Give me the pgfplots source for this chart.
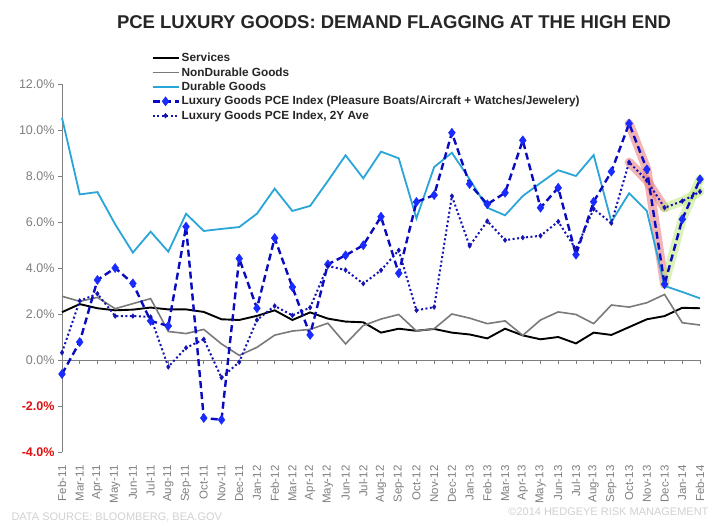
\documentclass[border=0pt]{standalone}
\usepackage{pgfplots}
\usepackage{pgfplotstable}
\pgfplotsset{compat=1.18}
\usepackage{fontspec}
\setmainfont{Liberation Sans}
\definecolor{durcol}{HTML}{2AA5D8}
\definecolor{luxcol}{HTML}{0A0AC0}
\definecolor{luxmark}{HTML}{1A2BFF}
\definecolor{avgcol}{HTML}{1414B4}
\definecolor{tickgray}{HTML}{7F7F7F}
\definecolor{negred}{HTML}{E01010}
\definecolor{ndgray}{HTML}{7A7A7A}
\definecolor{hlred}{HTML}{E87878}
\definecolor{hlgreen}{HTML}{B8E870}

\pgfplotstableread{
idx S N D L A
0 2.08 2.77 10.53 -0.61 0.32
1 2.43 2.55 7.20 0.78 2.57
2 2.25 2.72 7.30 3.48 2.88
3 2.16 2.23 5.90 4.00 1.91
4 2.19 2.45 4.67 3.33 1.91
5 2.28 2.67 5.58 1.70 1.87
6 2.20 1.24 4.71 1.48 -0.30
7 2.20 1.15 6.36 5.80 0.53
8 2.09 1.33 5.61 -2.52 0.90
9 1.77 0.70 5.70 -2.60 -0.77
10 1.74 0.20 5.78 4.41 -0.09
11 1.92 0.55 6.36 2.25 1.74
12 2.16 1.08 7.45 5.30 2.35
13 1.74 1.26 6.48 3.17 1.94
14 2.07 1.33 6.70 1.09 2.28
15 1.80 1.60 7.78 4.16 4.09
16 1.67 0.70 8.90 4.55 3.91
17 1.64 1.50 7.90 4.99 3.32
18 1.19 1.78 9.06 6.23 3.90
19 1.36 1.98 8.77 3.77 4.77
20 1.27 1.26 6.16 6.87 2.16
21 1.35 1.36 8.39 7.17 2.30
22 1.19 2.00 9.01 9.88 7.13
23 1.11 1.82 7.86 7.65 4.96
24 0.94 1.58 6.62 6.77 6.04
25 1.36 1.70 6.29 7.27 5.21
26 1.07 1.07 7.13 9.55 5.32
27 0.90 1.74 7.70 6.62 5.40
28 1.00 2.09 8.25 7.49 6.02
29 0.72 1.98 8.00 4.58 4.81
30 1.19 1.58 8.91 6.88 6.57
31 1.09 2.39 6.01 8.19 5.95
32 1.43 2.30 7.25 10.28 8.60
33 1.77 2.49 6.48 8.29 7.81
34 1.91 2.85 3.22 3.29 6.62
35 2.27 1.62 2.96 6.12 6.91
36 2.25 1.52 2.68 7.86 7.32
}\datatable

\begin{document}
\begin{tikzpicture}[x=1pt,y=1pt]
\useasboundingbox (0,0) rectangle (728,525);
\fill[white] (0,0) rectangle (728,525);
\node[font=\fontsize{18.5}{21}\selectfont\bfseries, text=black!85] at (394,503) {PCE LUXURY GOODS: DEMAND FLAGGING AT THE HIGH END};
\node[anchor=west, font=\fontsize{11}{12}\selectfont, text=black!18] at (8,8) {DATA SOURCE: BLOOMBERG, BEA.GOV};
\node[anchor=east, font=\fontsize{11}{12}\selectfont, text=black!18] at (712,13) {\textcopyright 2014 HEDGEYE RISK MANAGEMENT};
\begin{axis}[
  at={(62pt,73pt)}, anchor=south west,
  scale only axis, width=638pt, height=368pt,
  xmin=0, xmax=36, ymin=-4, ymax=12,
  axis y line=left, axis x line=bottom,
  axis line style={-},
  y axis line style={tickgray, line width=0.8pt},
  x axis line style={draw=none},
  xtick={0,...,36},
  xticklabels={Feb-11,Mar-11,Apr-11,May-11,Jun-11,Jul-11,Aug-11,Sep-11,Oct-11,Nov-11,Dec-11,Jan-12,Feb-12,Mar-12,Apr-12,May-12,Jun-12,Jul-12,Aug-12,Sep-12,Oct-12,Nov-12,Dec-12,Jan-13,Feb-13,Mar-13,Apr-13,May-13,Jun-13,Jul-13,Aug-13,Sep-13,Oct-13,Nov-13,Dec-13,Jan-14,Feb-14},
  x tick style={draw=none},
  x tick label style={rotate=90, anchor=east, font=\fontsize{11.5}{12}\selectfont, text=tickgray},
  xticklabel shift=6pt,
  ytick={-4,-2,0,2,4,6,8,10,12},
  yticklabels={\textcolor{negred}{\bfseries -4.0\%},\textcolor{negred}{\bfseries -2.0\%},0.0\%,2.0\%,4.0\%,6.0\%,8.0\%,10.0\%,12.0\%},
  y tick label style={font=\fontsize{12.5}{14}\selectfont, text=tickgray},
  y tick style={tickgray, line width=0.8pt},
  tick align=outside, major tick length=4pt,
  clip=false,
  legend style={at={(0.135,1.095)}, anchor=north west, draw=none, fill=white,
    font=\fontsize{11.8}{12}\selectfont\bfseries, text=black!85, cells={anchor=west},
    inner xsep=3pt, inner ysep=2pt, row sep=0.3pt},
  legend image code/.code={\draw[mark repeat=2,mark phase=2,#1] plot coordinates {(0pt,0pt)(13pt,0pt)(26pt,0pt)};},
]
\draw[tickgray, line width=0.8pt] (axis cs:0,0) -- (axis cs:36,0);
\pgfplotsinvokeforeach{0,...,36}{\draw[tickgray, line width=0.6pt] (axis cs:#1,0) -- ++(0pt,-4pt);}
% highlights
\addplot[forget plot, hlred, opacity=0.55, line width=9pt, line cap=round, line join=round] coordinates {(32,10.28)(33,8.29)(34,3.29)};
\addplot[forget plot, hlred, opacity=0.55, line width=9pt, line cap=round, line join=round] coordinates {(32,8.60)(33,7.81)(34,6.62)};
\addplot[forget plot, hlgreen, opacity=0.5, line width=9pt, line cap=round, line join=round] coordinates {(34,3.29)(35,6.12)(36,7.86)};
\addplot[forget plot, hlgreen, opacity=0.5, line width=9pt, line cap=round, line join=round] coordinates {(34,6.62)(35,6.91)(36,7.32)};
% series
\addplot[black, line width=1.9pt, no marks] table[x=idx,y=S] {\datatable};
\addlegendentry{Services}
\addplot[ndgray, line width=1.6pt, no marks] table[x=idx,y=N] {\datatable};
\addlegendentry{NonDurable Goods}
\addplot[durcol, line width=1.8pt, no marks] table[x=idx,y=D] {\datatable};
\addlegendentry{Durable Goods}
\addplot[luxcol, line width=2.4pt, dash pattern=on 7pt off 4pt, mark=diamond*, mark size=4.5pt, mark options={solid, fill=luxmark, draw=luxmark, line width=0.5pt}] table[x=idx,y=L] {\datatable};
\addlegendentry{Luxury Goods PCE Index (Pleasure Boats/Aircraft + Watches/Jewelery)}
\addplot[avgcol, line width=2pt, dash pattern=on 2pt off 2.5pt, mark=diamond*, mark size=2.4pt, mark options={solid, fill=avgcol, draw=avgcol, line width=0.4pt}] table[x=idx,y=A] {\datatable};
\addlegendentry{Luxury Goods PCE Index, 2Y Ave}
\end{axis}
\end{tikzpicture}
\end{document}
